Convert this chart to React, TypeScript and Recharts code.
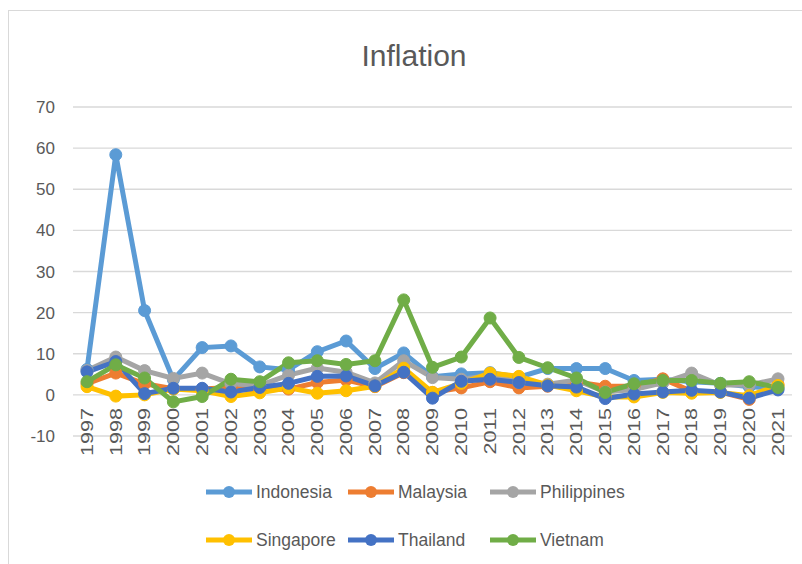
import React from 'react';
import { LineChart, Line, XAxis, YAxis, CartesianGrid, Legend } from 'recharts';

const years = ['1997','1998','1999','2000','2001','2002','2003','2004','2005','2006','2007','2008','2009','2010','2011','2012','2013','2014','2015','2016','2017','2018','2019','2020','2021'];

const indonesia = [6.2, 58.4, 20.5, 3.7, 11.5, 11.9, 6.8, 6.1, 10.5, 13.1, 6.4, 10.2, 4.4, 5.1, 5.4, 4.3, 6.4, 6.4, 6.4, 3.5, 3.8, 3.2, 2.8, 2.0, 1.6];
const malaysia = [2.7, 5.3, 2.7, 1.5, 1.4, 1.8, 1.1, 1.4, 3.0, 3.6, 2.0, 5.4, 0.6, 1.7, 3.2, 1.7, 2.1, 3.1, 2.1, 2.1, 3.9, 0.9, 0.7, -1.1, 2.5];
const philippines = [5.9, 9.2, 5.9, 4.0, 5.3, 2.7, 2.3, 4.8, 6.5, 5.5, 2.9, 8.3, 4.2, 3.8, 4.7, 3.0, 2.6, 3.6, 0.7, 1.3, 2.9, 5.3, 2.4, 2.4, 3.9];
const singapore = [2.0, -0.3, 0.0, 1.4, 1.0, -0.4, 0.5, 1.7, 0.4, 1.0, 2.1, 6.5, 0.6, 2.8, 5.3, 4.5, 2.4, 1.0, -0.5, -0.5, 0.6, 0.4, 0.6, -0.2, 2.3];
const thailand = [5.6, 8.1, 0.3, 1.6, 1.6, 0.7, 1.8, 2.8, 4.5, 4.6, 2.2, 5.5, -0.8, 3.3, 3.8, 3.0, 2.2, 1.9, -0.9, 0.2, 0.7, 1.1, 0.7, -0.8, 1.2];
const vietnam = [3.2, 7.3, 4.1, -1.7, -0.4, 3.8, 3.2, 7.8, 8.3, 7.4, 8.3, 23.1, 6.7, 9.2, 18.7, 9.1, 6.6, 4.1, 0.6, 2.7, 3.5, 3.5, 2.8, 3.2, 1.8];

const yTicks = [-10, 0, 10, 20, 30, 40, 50, 60, 70];

const seriesNames = ['Indonesia', 'Malaysia', 'Philippines', 'Singapore', 'Thailand', 'Vietnam'];
const seriesValues = [indonesia, malaysia, philippines, singapore, thailand, vietnam];
const seriesColors = ['#5B9BD5', '#ED7D31', '#A5A5A5', '#FFC000', '#4472C4', '#70AD47'];

const data = years.map((y, i) => {
  const row: any = { year: y };
  seriesNames.forEach((n, k) => { row[n] = seriesValues[k][i]; });
  return row;
});

const FONT = '"Liberation Sans", Arial, sans-serif';
const TEXT = '#595959';

const XTick = (props: any) => {
  const { x, y, payload } = props;
  return (
    <g transform={`translate(${x},${y - 28})`}>
      <text transform="rotate(-90) scale(1.35,1)" textAnchor="end" dy="0.36em" fill={TEXT} fontSize={16} fontFamily={FONT}>
        {payload.value}
      </text>
    </g>
  );
};

const LegendContent = (props: any) => {
  const { payload } = props;
  return (
    <div style={{ position: 'relative', width: 779, height: 88 }}>
      {(payload || []).map((p: any, i: number) => (
        <div key={p.value} style={{ position: 'absolute', left: 193 + (i % 3) * 142, top: Math.floor(i / 3) * 48 + 4, height: 24, display: 'flex', alignItems: 'center' }}>
          <svg width={46} height={14}>
            <line x1={0} y1={7} x2={46} y2={7} stroke={p.color} strokeWidth={5} />
            <circle cx={23} cy={7} r={6} fill={p.color} />
          </svg>
          <span style={{ marginLeft: 4, fontSize: 17.5, color: TEXT, fontFamily: FONT, whiteSpace: 'nowrap' }}>{p.value}</span>
        </div>
      ))}
    </div>
  );
};

export default function App() {
  return (
    <div style={{ position: 'absolute', left: 0, top: 0, width: 802, height: 564, overflow: 'hidden', background: '#fff' }}>
      <div style={{ position: 'absolute', left: 8, top: 10, width: 900, height: 700, border: '1.5px solid #d9d9d9', boxSizing: 'border-box' }} />
      <div style={{ position: 'absolute', left: 0, top: 39, width: 828, textAlign: 'center', fontFamily: FONT, fontSize: 30, color: TEXT }}>Inflation</div>
      <div style={{ position: 'absolute', left: 0, top: 0 }}>
        <LineChart width={802} height={564} data={data} margin={{ top: 107, right: 10, left: 13, bottom: 0 }}>
          <CartesianGrid vertical={false} stroke="#d9d9d9" strokeWidth={1.4} />
          <XAxis dataKey="year" interval={0} tickLine={false} axisLine={false} height={40} tickSize={0} tickMargin={0} padding={{ left: 14, right: 14 }} tick={<XTick />} />
          <YAxis domain={[-10, 70]} ticks={yTicks} width={60} tickLine={false} axisLine={false} tickSize={0} tickMargin={18} tick={{ fill: TEXT, fontSize: 17, fontFamily: FONT }} interval={0} />
          <Legend verticalAlign="bottom" content={<LegendContent />} />
          {seriesNames.map((n, k) => (
            <Line key={n} type="linear" dataKey={n} stroke={seriesColors[k]} strokeWidth={5}
              dot={{ r: 6, fill: seriesColors[k], stroke: seriesColors[k], strokeWidth: 1 }}
              activeDot={false} isAnimationActive={false} />
          ))}
        </LineChart>
      </div>
    </div>
  );
}
